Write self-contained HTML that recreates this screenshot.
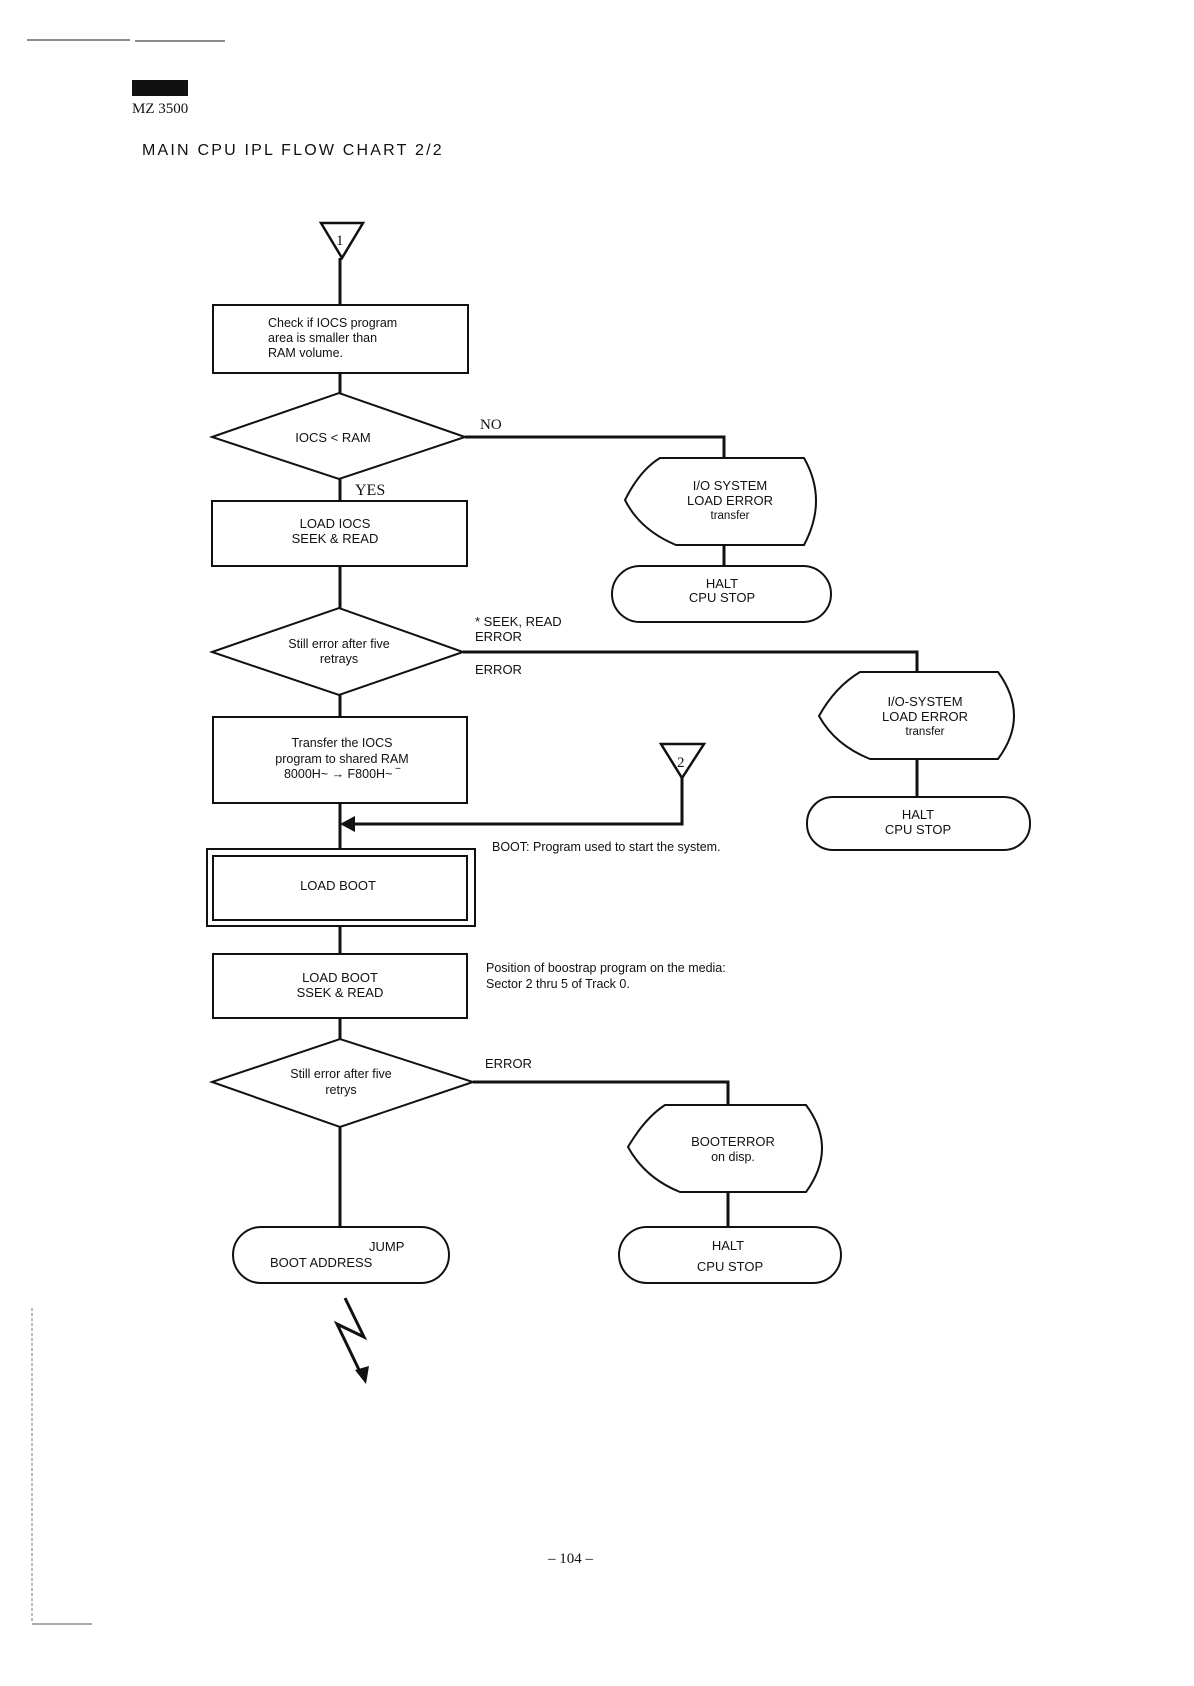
<!DOCTYPE html>
<html><head><meta charset="utf-8"><style>
html,body{margin:0;padding:0;background:#fff}
svg{display:block}
text{font-family:"Liberation Sans",sans-serif;fill:#111}
</style></head><body>
<svg width="1194" height="1686" viewBox="0 0 1194 1686" xmlns="http://www.w3.org/2000/svg">
<g stroke="#666" stroke-width="1.5"><line x1="27" y1="40" x2="130" y2="40"/><line x1="135" y1="41" x2="225" y2="41"/></g>
<rect x="132" y="80" width="56" height="16" fill="#111"/>
<text x="132" y="113" style="font-family:'Liberation Serif',serif" font-size="15">MZ 3500</text>
<text x="142" y="155" font-size="16" letter-spacing="2.2">MAIN  CPU  IPL  FLOW  CHART  2/2</text>

<g fill="none" stroke="#111" stroke-width="3">
<line x1="340" y1="258" x2="340" y2="305"/>
<line x1="340" y1="373" x2="340" y2="393"/>
<line x1="340" y1="479" x2="340" y2="501"/>
<line x1="340" y1="566" x2="340" y2="608"/>
<line x1="340" y1="695" x2="340" y2="717"/>
<line x1="340" y1="803" x2="340" y2="849"/>
<line x1="340" y1="926" x2="340" y2="954"/>
<line x1="340" y1="1018" x2="340" y2="1039"/>
<line x1="340" y1="1127" x2="340" y2="1227"/>
<polyline points="465,437 724,437 724,458"/>
<line x1="724" y1="545" x2="724" y2="566"/>
<polyline points="463,652 917,652 917,672"/>
<line x1="917" y1="759" x2="917" y2="797"/>
<polyline points="682,778 682,824 352,824"/>
<polyline points="473,1082 728,1082 728,1105"/>
<line x1="728" y1="1192" x2="728" y2="1227"/>
<polyline points="345,1298 364,1337 337,1324 362,1376"/>
</g>
<polygon points="340,824 355,816 355,832" fill="#111"/>
<polygon points="366,1384 355,1370 369,1366" fill="#111"/>

<g fill="none" stroke="#111" stroke-width="2">
<polygon points="321,223 363,223 342,258" stroke-width="2.5"/>
<rect x="213" y="305" width="255" height="68"/>
<polygon points="212,437 339,393 465,437 339,479"/>
<rect x="212" y="501" width="255" height="65"/>
<polygon points="212,652 339,608 463,652 339,695"/>
<rect x="213" y="717" width="254" height="86"/>
<polygon points="661,744 704,744 682,778" stroke-width="2.5"/>
<rect x="207" y="849" width="268" height="77"/>
<rect x="213" y="856" width="254" height="64"/>
<rect x="213" y="954" width="254" height="64"/>
<polygon points="212,1082 340,1039 473,1082 340,1127"/>
<path d="M660,458 L804,458 Q828,500 804,545 L676,545 Q640,530 625,500 Q640,470 660,458 Z"/>
<rect x="612" y="566" width="219" height="56" rx="28"/>
<path d="M860,672 L998,672 Q1030,716 998,759 L870,759 Q835,745 819,716 Q835,687 860,672 Z"/>
<rect x="807" y="797" width="223" height="53" rx="26"/>
<path d="M665,1105 L806,1105 Q838,1148 806,1192 L680,1192 Q645,1178 628,1147 Q645,1118 665,1105 Z"/>
<rect x="619" y="1227" width="222" height="56" rx="28"/>
<rect x="233" y="1227" width="216" height="56" rx="28"/>
</g>
<g stroke="#777" stroke-width="1" stroke-dasharray="3,2"><line x1="32" y1="1308" x2="32" y2="1623"/></g>
<line x1="32" y1="1624" x2="92" y2="1624" stroke="#555" stroke-width="1"/>

<g font-size="15">
<text x="336" y="245" style="font-family:'Liberation Serif',serif">1</text>
<text x="677" y="767" style="font-family:'Liberation Serif',serif">2</text>
<text x="480" y="429" style="font-family:'Liberation Serif',serif">NO</text>
<text x="355" y="495" style="font-family:'Liberation Serif',serif" font-size="16">YES</text>
<text x="548" y="1563" style="font-family:'Liberation Serif',serif">– 104 –</text>
</g>

<g font-size="12.5">
<text x="268" y="327">Check if IOCS program</text>
<text x="268" y="342">area is smaller than</text>
<text x="268" y="357">RAM volume.</text>
<text x="333" y="442" text-anchor="middle" font-size="13">IOCS &lt; RAM</text>
<text x="335" y="528" text-anchor="middle" font-size="13">LOAD IOCS</text>
<text x="335" y="543" text-anchor="middle" font-size="13">SEEK &amp; READ</text>
<text x="339" y="648" text-anchor="middle">Still error after five</text>
<text x="339" y="663" text-anchor="middle">retrays</text>
<text x="475" y="626" font-size="13">* SEEK, READ</text>
<text x="475" y="641" font-size="13">ERROR</text>
<text x="475" y="674" font-size="13">ERROR</text>
<text x="342" y="747" text-anchor="middle">Transfer the IOCS</text>
<text x="342" y="763" text-anchor="middle">program to shared RAM</text>
<text x="342" y="778" text-anchor="middle">8000H~ → F800H~  ‾</text>
<text x="730" y="490" text-anchor="middle" font-size="13">I/O SYSTEM</text>
<text x="730" y="505" text-anchor="middle" font-size="13">LOAD ERROR</text>
<text x="730" y="519" text-anchor="middle" font-size="11.5">transfer</text>
<text x="722" y="588" text-anchor="middle" font-size="13">HALT</text>
<text x="722" y="602" text-anchor="middle" font-size="13">CPU STOP</text>
<text x="925" y="706" text-anchor="middle" font-size="13">I/O-SYSTEM</text>
<text x="925" y="721" text-anchor="middle" font-size="13">LOAD ERROR</text>
<text x="925" y="735" text-anchor="middle" font-size="11.5">transfer</text>
<text x="918" y="819" text-anchor="middle" font-size="13">HALT</text>
<text x="918" y="834" text-anchor="middle" font-size="13">CPU STOP</text>
<text x="492" y="851">BOOT: Program used to start the system.</text>
<text x="338" y="890" text-anchor="middle" font-size="13">LOAD BOOT</text>
<text x="340" y="982" text-anchor="middle" font-size="13">LOAD BOOT</text>
<text x="340" y="997" text-anchor="middle" font-size="13">SSEK &amp; READ</text>
<text x="486" y="972">Position of boostrap program on the media:</text>
<text x="486" y="988">Sector 2 thru 5 of Track 0.</text>
<text x="341" y="1078" text-anchor="middle">Still error after five</text>
<text x="341" y="1094" text-anchor="middle">retrys</text>
<text x="485" y="1068" font-size="13">ERROR</text>
<text x="733" y="1146" text-anchor="middle" font-size="13">BOOTERROR</text>
<text x="733" y="1161" text-anchor="middle">on disp.</text>
<text x="728" y="1250" text-anchor="middle" font-size="13">HALT</text>
<text x="730" y="1271" text-anchor="middle" font-size="13">CPU STOP</text>
<text x="369" y="1251" font-size="13">JUMP</text>
<text x="270" y="1267" font-size="13">BOOT ADDRESS</text>
</g>
</svg>
</body></html>
